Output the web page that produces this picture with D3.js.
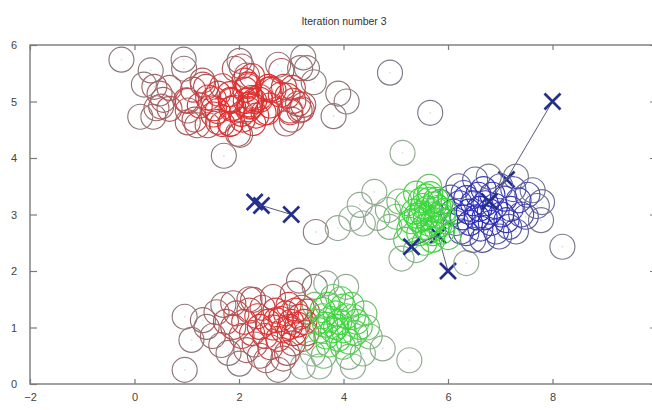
<!DOCTYPE html>
<html><head><meta charset="utf-8">
<script src="https://cdn.jsdelivr.net/npm/d3@7"></script>
<style>body{margin:0;background:#fff}svg{display:block}</style>
</head><body>
<svg id="c" width="652" height="410"></svg>
<script>
const chartTitle = "Iteration number 3";
const xTickValues = [-2, 0, 2, 4, 6, 8];
const yTickValues = [0, 1, 2, 3, 4, 5, 6];

// upper-left group of samples
const topPoints = [
 [1.84,4.61],[5.66,4.80],[2.90,4.61],[3.23,4.94],[1.25,4.93],[1.98,4.43],[2.23,5.06],[2.98,4.84],
 [2.98,4.81],[2.11,5.37],[2.12,5.21],[1.51,4.77],[2.17,5.27],[0.42,4.88],[2.47,4.80],[4.06,5.00],
 [3.01,4.68],[0.67,4.87],[3.16,4.84],[0.51,4.91],[3.13,4.96],[2.05,5.62],[0.67,5.24],[1.02,4.84],
 [2.18,5.30],[2.86,5.26],[1.31,5.30],[0.99,5.02],[1.40,4.58],[2.66,5.20],[2.80,5.12],[2.07,4.68],
 [3.30,5.59],[1.89,4.89],[2.56,5.26],[1.15,4.68],[2.25,5.45],[2.21,4.91],[1.59,4.83],[1.68,5.27],
 [2.59,4.93],[2.81,5.54],[0.95,5.58],[1.52,5.04],[3.23,5.78],[2.54,4.81],[3.81,4.74],[1.68,4.60],
 [2.18,4.86],[1.82,5.13],[1.86,4.87],[3.03,5.24],[2.93,5.10],[3.43,5.34],[3.20,4.86],[0.11,4.73],
 [1.41,5.07],[2.24,4.92],[1.37,5.26],[1.71,4.04],[1.92,5.58],[1.60,4.64],[0.38,5.26],[2.02,4.41],
 [1.12,5.21],[2.27,4.62],[-0.25,5.74],[2.13,5.01],[1.84,5.03],[2.33,4.75],[1.52,4.88],[1.02,5.01],
 [1.85,5.01],[2.20,4.95],[1.20,4.58],[1.02,4.63],[1.60,5.14],[0.48,5.14],[0.36,4.73],[0.31,5.55],
 [2.29,5.01],[2.15,5.46],[2.05,4.78],[4.89,5.51],[2.40,5.08],[2.57,5.21],[1.83,4.60],[0.55,5.03],
 [3.17,5.59],[3.04,5.01],[2.40,5.03],[0.18,5.30],[2.61,5.22],[1.30,5.37],[2.01,5.72],[0.94,5.74],
 [3.90,5.14],[2.75,5.65]
];

// right-middle group of samples
const middlePoints = [
 [3.47,2.69],[3.89,2.76],[4.15,2.93],[4.31,3.17],[4.37,2.84],[4.59,3.40],[4.65,2.94],[4.88,2.78],
 [4.85,3.08],[5.01,2.96],[5.07,3.23],[5.13,4.09],[5.11,2.22],[5.20,2.55],[5.26,2.73],[5.23,3.20],
 [5.39,3.37],[5.39,2.37],[5.45,2.90],[5.45,2.67],[5.52,3.15],[5.64,3.49],[5.64,3.26],[5.64,2.84],
 [5.71,2.67],[5.77,3.08],[5.77,3.26],[5.90,2.96],[6.35,2.14],[5.50,3.02],[5.58,2.95],[5.60,3.10],
 [5.68,3.00],[5.72,2.90],[5.74,3.18],[5.80,2.98],[5.82,3.12],[5.84,2.82],[5.86,3.22],[5.55,2.78],
 [5.62,2.70],[5.48,3.25],[5.35,3.05],[5.30,2.88],[5.92,3.06],[5.95,2.88],[5.66,3.36],[5.78,2.76],
 [5.58,3.32],[5.40,2.98],[5.88,2.70],[5.70,2.55],[5.55,2.50],[6.00,2.60],
 [6.05,3.30],[6.10,3.05],[6.15,2.85],[6.20,3.50],[6.22,3.20],[6.28,2.95],[6.30,3.38],[6.35,2.67],
 [6.35,3.29],[6.40,3.05],[6.42,2.85],[6.48,3.20],[6.48,2.55],[6.52,3.62],[6.55,2.95],[6.58,3.35],
 [6.60,3.10],[6.62,2.75],[6.66,2.55],[6.68,3.45],[6.70,2.95],[6.72,3.20],[6.78,3.67],[6.80,3.05],
 [6.82,2.85],[6.85,3.35],[6.90,3.15],[6.92,2.70],[6.98,2.61],[7.00,3.50],[7.02,3.00],[7.08,3.28],
 [7.12,2.90],[7.17,2.78],[7.20,3.10],[7.25,3.45],[7.30,3.67],[7.35,3.25],[7.40,3.00],[7.49,2.96],
 [7.52,3.35],[7.62,3.43],[7.70,3.15],[7.78,2.90],[7.80,3.22],[8.19,2.43],[6.25,2.70],[7.30,2.70]
];

// lower group of samples
const bottomPoints = [
 [0.96,1.19],[1.09,0.78],[0.96,0.25],[1.31,1.13],[1.38,1.01],[1.57,1.27],[1.66,0.69],[1.89,1.43],
 [1.89,1.01],[2.01,0.36],[2.14,0.60],[2.27,1.49],[2.40,1.01],[2.52,0.42],[2.65,1.54],[2.71,1.13],
 [2.75,0.25],[2.97,1.01],[3.03,1.60],[3.03,0.72],[3.15,1.83],[3.45,1.72],[3.16,1.19],[3.29,0.90],
 [1.75,1.10],[1.95,1.25],[2.05,0.85],[2.10,1.10],[2.20,1.30],[2.25,0.90],[2.30,0.70],[2.35,1.20],
 [2.45,1.35],[2.50,0.85],[2.55,1.10],[2.60,0.65],[2.65,1.00],[2.70,1.30],[2.75,0.80],[2.80,1.15],
 [2.85,0.95],[2.90,1.25],[2.92,0.55],[2.95,1.40],[3.00,1.10],[3.05,0.90],[3.08,1.30],[3.12,1.05],
 [3.20,1.35],[3.22,0.80],[3.25,1.10],[3.30,1.28],[1.80,0.55],[2.40,0.50],[1.50,0.85],[1.70,1.40],
 [2.20,1.50],[2.85,0.45],
 [3.22,0.31],[3.41,0.54],[3.54,0.31],[3.60,1.31],[3.67,0.84],[3.80,1.54],[3.86,1.01],[3.99,1.37],
 [3.99,0.66],[4.05,1.72],[4.18,1.19],[4.18,0.31],[4.31,1.01],[4.37,0.54],[4.50,0.84],[4.75,0.63],
 [5.26,0.42],[3.67,1.78],[3.50,1.10],[3.55,0.95],[3.60,1.20],[3.65,1.05],[3.70,1.40],[3.72,0.70],
 [3.75,1.15],[3.80,0.95],[3.85,1.25],[3.90,0.80],[3.92,1.10],[3.95,1.50],[4.00,0.95],[4.05,1.20],
 [4.10,0.75],[4.15,1.40],[4.22,0.90],[4.25,1.10],[4.40,1.25],[4.45,1.00],[3.45,1.40],[3.50,0.70],
 [3.62,0.50],[4.10,0.48]
];

// centroid history: initial, after iteration 1, after iteration 2
const centroid1Path = [[3.00,3.00],[2.43,3.16],[2.30,3.22]];
const centroid2Path = [[6.00,2.00],[5.81,2.63],[5.30,2.43]];
const centroid3Path = [[8.00,5.00],[7.12,3.62],[6.79,3.23]];

const clusterBase = ["#8d777a", "#93a993", "#7a7a8e"];
const clusterFull = ["#de3030", "#3ad83a", "#2a2abe"];

const svg = d3.select("#c");
const x = d3.scaleLinear().domain([-2, 10]).range([30, 657]);
const y = d3.scaleLinear().domain([0, 6]).range([384, 45]);

// title
svg.append("text").attr("x", 344).attr("y", 25).attr("text-anchor", "middle")
  .attr("font-family", "Liberation Sans, Arial, sans-serif").attr("font-size", 10.5)
  .attr("fill", "#333").text(chartTitle);

const paths = [centroid1Path, centroid2Path, centroid3Path];
const current = paths.map(p => p[p.length - 1]);

const pts = [...topPoints, ...middlePoints, ...bottomPoints].map(([px, py]) => ({px, py}));
pts.forEach(p => {
  let best = 0, bd = Infinity;
  current.forEach((c, i) => {
    const d = (p.px - c[0]) ** 2 + (p.py - c[1]) ** 2;
    if (d < bd) { bd = d; best = i; }
  });
  p.k = best; p.sx = x(p.px); p.sy = y(p.py);
});
pts.forEach(p => {
  p.n = pts.filter(q => q !== p && q.k === p.k && Math.hypot(q.sx - p.sx, q.sy - p.sy) < 24).length;
  p.t = Math.pow(Math.max(0, Math.min(1, (p.n - 5) / 11)), 0.9);
  p.col = d3.interpolateRgb(clusterBase[p.k], clusterFull[p.k])(p.t);
});
pts.sort((a, b) => a.t - b.t);

const lineGen = d3.line().x(d => x(d[0])).y(d => y(d[1]));
const xMark = (cx, cy, s) => `M${cx - s},${cy - s}L${cx + s},${cy + s}M${cx - s},${cy + s}L${cx + s},${cy - s}`;
const markColor = "#22308c";

// earlier centroid marks and first move (drawn before current points)
const early = svg.append("g");
paths.forEach(p => {
  early.append("path").attr("d", lineGen(p.slice(0, 2))).attr("fill", "none")
    .attr("stroke", "#5a5b74").attr("stroke-width", 1);
  p.slice(0, 2).forEach(c => early.append("path").attr("d", xMark(x(c[0]), y(c[1]), 8))
    .attr("stroke", markColor).attr("stroke-width", 2.7).attr("fill", "none"));
});

// data points
const gp = svg.append("g");
gp.selectAll("circle.pt").data(pts).join("circle").attr("class", "pt")
  .attr("cx", d => d.sx).attr("cy", d => d.sy).attr("r", 12.5)
  .attr("fill", "none").attr("stroke", d => d.col).attr("stroke-width", 1.15);
gp.selectAll("circle.dot").data(pts).join("circle").attr("class", "dot")
  .attr("cx", d => d.sx).attr("cy", d => d.sy).attr("r", 0.9)
  .attr("fill", "#c9d3d3").attr("opacity", 0.7);

// latest move and current centroids
const late = svg.append("g");
paths.forEach(p => {
  late.append("path").attr("d", lineGen(p.slice(1))).attr("fill", "none")
    .attr("stroke", "#5a5b74").attr("stroke-width", 1);
  const c = p[p.length - 1];
  late.append("path").attr("d", xMark(x(c[0]), y(c[1]), 8))
    .attr("stroke", markColor).attr("stroke-width", 2.7).attr("fill", "none");
});

// axes
const axColor = "#7a7a7a";
const styleAxis = g => {
  g.select(".domain").remove();
  g.selectAll(".tick line").attr("stroke", axColor).attr("stroke-width", 1.2);
  g.selectAll(".tick text").attr("fill", "#444")
    .attr("font-family", "Liberation Sans, Arial, sans-serif").attr("font-size", 11);
};
svg.append("g").attr("transform", "translate(0,384)")
  .call(d3.axisBottom(x).tickValues(xTickValues).tickSize(-5).tickPadding(9).tickFormat(d3.format("d")))
  .call(styleAxis);
svg.append("g").attr("transform", "translate(0,45)")
  .call(d3.axisTop(x).tickValues(xTickValues).tickSize(-5).tickFormat(""))
  .call(styleAxis);
svg.append("g").attr("transform", "translate(30,0)")
  .call(d3.axisLeft(y).tickValues(yTickValues).tickSize(-7).tickPadding(13).tickFormat(d3.format("d")))
  .call(styleAxis);
svg.append("g").attr("transform", "translate(657,0)")
  .call(d3.axisRight(y).tickValues(yTickValues).tickSize(-7).tickFormat(""))
  .call(styleAxis);
svg.append("rect").attr("x", 30).attr("y", 45).attr("width", 627).attr("height", 339)
  .attr("fill", "none").attr("stroke", axColor).attr("stroke-width", 1.4);
</script>
</body></html>
